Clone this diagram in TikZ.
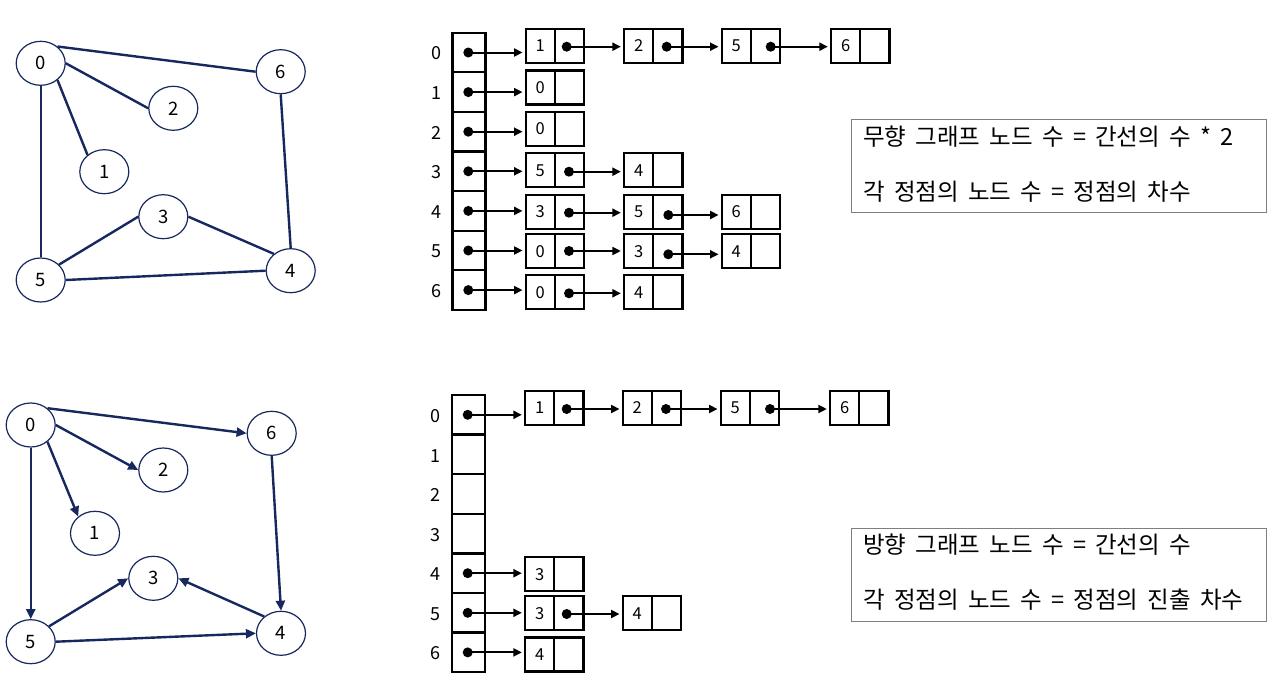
\documentclass[tikz,border=0pt]{standalone}
\usepackage{fontspec}
\setmainfont{Noto Sans CJK KR}
\newfontfamily\krw{Noto Sans CJK KR}[WordSpace=1.75]
\usetikzlibrary{shapes.geometric,arrows.meta}
\definecolor{navy}{RGB}{22,40,94}
\definecolor{boxgray}{RGB}{127,127,127}
\tikzset{
  vtx/.style={ellipse,draw=navy,line width=1.2pt,minimum width=49pt,minimum height=44pt,inner sep=0pt,font=\fontsize{18.5}{22}\selectfont},
  gedge/.style={draw=navy,line width=2.4pt},
  garr/.style={draw=navy,line width=2.4pt,-{Triangle[length=10pt,width=9pt]},color=navy},
  acell/.style={rectangle,draw=black,line width=2.3pt,minimum width=33pt,minimum height=39.6pt,inner sep=0pt},
  lcell/.style={rectangle,draw=black,line width=2.3pt,minimum width=29.2pt,minimum height=34pt,inner sep=0pt,font=\fontsize{16.5}{19}\selectfont},
  pdot/.style={circle,fill=black,inner sep=0pt,minimum size=10pt},
  ptr/.style={line width=2pt,-{Triangle[length=8.5pt,width=8pt]},shorten >=2pt},
  idx/.style={inner sep=0pt,font=\fontsize{18}{21}\selectfont},
  note/.style={rectangle,draw=boxgray,line width=1.2pt,inner sep=0pt},
  ntext/.style={anchor=west,inner sep=0pt,font=\krw\fontsize{23.5}{27}\selectfont}
}
% list node: name, left x, center y, digit
\newcommand{\lnode}[4]{%
  \node[lcell] (#1v) at ({#2+14.6},{#3}) {#4};
  \node[lcell] (#1p) at ({#2+43.8},{#3}) {};
}
\begin{document}
\begin{tikzpicture}[x=1pt,y=-1pt]
\useasboundingbox (0,0) rectangle (1278,680);
\fill[white] (0,0) rectangle (1278,680);

% ---------------- top graph ----------------
\node[vtx] (t0) at (40.7,63.3) {0};
\node[vtx] (t6) at (280.7,71.7) {6};
\node[vtx] (t2) at (173.3,108.3) {2};
\node[vtx] (t1) at (104.3,171.7) {1};
\node[vtx] (t3) at (163.3,216.7) {3};
\node[vtx] (t5) at (40.7,280) {5};
\node[vtx] (t4) at (290.7,270.7) {4};
\draw[gedge] (t0.45) -- (t6.west);
\draw[gedge] (t0.east) -- (t2.west);
\draw[gedge] (t0.-45) -- (t1.135);
\draw[gedge] (t0.south) -- (t5.north);
\draw[gedge] (t5.40) -- (t3.west);
\draw[gedge] (t3.east) -- (t4.135);
\draw[gedge] (t5.east) -- (t4.west);
\draw[gedge] (t6.south) -- (t4.north);

% ---------------- bottom graph ----------------
\node[vtx] (b0) at (30.7,425) {0};
\node[vtx] (b6) at (271.7,433.3) {6};
\node[vtx] (b2) at (163.3,470) {2};
\node[vtx] (b1) at (95,533.3) {1};
\node[vtx] (b3) at (153.3,578.3) {3};
\node[vtx] (b5) at (30.7,641.7) {5};
\node[vtx] (b4) at (281,633.3) {4};
\draw[garr] (b0.45) -- (b6.west);
\draw[garr] (b0.east) -- (b2.west);
\draw[garr] (b0.-45) -- (b1.135);
\draw[garr] (b0.south) -- (b5.north);
\draw[garr] (b5.40) -- (b3.west);
\draw[garr] (b4.135) -- (b3.east);
\draw[garr] (b5.east) -- (b4.west);
\draw[garr] (b6.south) -- (b4.north);

% ---------------- top adjacency list ----------------
\foreach \i/\yc/\yl in {0/52.5/53.3,1/92.1/92.7,2/131.7/132.7,3/171.3/171.7,4/210.9/211.7,5/250.5/251,6/290.1/290.7}{
  \node[acell] (ta\i) at (469,\yc) {};
  \node[idx] (tl\i) at (436,\yl) {\i};
  \node[pdot] (td\i) at (468.3,\yc) {};
}
\lnode{r0a}{525.7}{45.8}{1}
\lnode{r0b}{624}{45.8}{2}
\lnode{r0c}{721.7}{45.8}{5}
\lnode{r0d}{831}{45.8}{6}
\lnode{r1a}{525.7}{87.5}{0}
\lnode{r2a}{525.7}{128.8}{0}
\lnode{r3a}{525.7}{170.3}{5}
\lnode{r3b}{624}{170.3}{4}
\lnode{r4a}{525.7}{211.7}{3}
\lnode{r4b}{624}{211.7}{5}
\lnode{r4c}{721.7}{211.7}{6}
\lnode{r5a}{525.7}{251.2}{0}
\lnode{r5b}{624}{251.2}{3}
\lnode{r5c}{721.7}{251.2}{4}
\lnode{r6a}{525.7}{292.2}{0}
\lnode{r6b}{624}{292.2}{4}
% array pointers
\foreach \i/\r in {0/r0a,1/r1a,2/r2a,3/r3a,4/r4a,5/r5a,6/r6a}{
  \draw[ptr] (td\i.center) -- (\r v.west |- td\i.center);
}
% chain dots and pointers
\node[pdot] (q01) at (566.7,46.7) {};
\node[pdot] (q02) at (666.7,46.7) {};
\node[pdot] (q03) at (770.7,46.7) {};
\draw[ptr] (q01.center) -- (r0bv.west |- q01.center);
\draw[ptr] (q02.center) -- (r0cv.west |- q02.center);
\draw[ptr] (q03.center) -- (r0dv.west |- q03.center);
\node[pdot] (q31) at (569,171.7) {};
\draw[ptr] (q31.center) -- (r3bv.west |- q31.center);
\node[pdot] (q41) at (569,212.7) {};
\node[pdot] (q42) at (668.3,215) {};
\draw[ptr] (q41.center) -- (r4bv.west |- q41.center);
\draw[ptr] (q42.center) -- (r4cv.west |- q42.center);
\node[pdot] (q51) at (569,251) {};
\node[pdot] (q52) at (668.3,254.3) {};
\draw[ptr] (q51.center) -- (r5bv.west |- q51.center);
\draw[ptr] (q52.center) -- (r5cv.west |- q52.center);
\node[pdot] (q61) at (569,293.3) {};
\draw[ptr] (q61.center) -- (r6bv.west |- q61.center);

% ---------------- bottom adjacency list ----------------
\foreach \i/\yc/\yl in {0/414.8/415.7,1/454.4/455.7,2/494/495,3/533.6/535,4/573.2/574.3,5/612.8/614.3,6/652.4/653.3}{
  \node[acell] (ba\i) at (468.3,\yc) {};
  \node[idx] (bl\i) at (435,\yl) {\i};
}
\foreach \i/\yc in {0/414.8,4/573.2,5/612.8,6/652.4}{
  \node[pdot] (bd\i) at (467.7,\yc) {};
}
\lnode{s0a}{525}{408}{1}
\lnode{s0b}{622.7}{408}{2}
\lnode{s0c}{720.7}{408}{5}
\lnode{s0d}{830}{408}{6}
\lnode{s4a}{525}{574.2}{3}
\lnode{s5a}{525}{613.3}{3}
\lnode{s5b}{622.7}{613.3}{4}
\lnode{s6a}{525}{654.5}{4}
\foreach \i/\r in {0/s0a,4/s4a,5/s5a,6/s6a}{
  \draw[ptr] (bd\i.center) -- (\r v.west |- bd\i.center);
}
\node[pdot] (p01) at (566.7,409) {};
\node[pdot] (p02) at (666,409) {};
\node[pdot] (p03) at (770,409) {};
\draw[ptr] (p01.center) -- (s0bv.west |- p01.center);
\draw[ptr] (p02.center) -- (s0cv.west |- p02.center);
\draw[ptr] (p03.center) -- (s0dv.west |- p03.center);
\node[pdot] (p51) at (566.7,614) {};
\draw[ptr] (p51.center) -- (s5bv.west |- p51.center);

% ---------------- notes ----------------
\node[note,minimum width=415pt,minimum height=93.4pt] (n1) at (1059.2,166) {};
\node[ntext] (n1a) at (863,137) {무향 그래프 노드 수 = 간선의 수 * 2};
\node[ntext] (n1b) at (863,192) {각 정점의 노드 수 = 정점의 차수};
\node[note,minimum width=415pt,minimum height=93.4pt] (n2) at (1059.2,575) {};
\node[ntext] (n2a) at (863,545) {방향 그래프 노드 수 = 간선의 수};
\node[ntext] (n2b) at (863,600) {각 정점의 노드 수 = 정점의 진출 차수};
\end{tikzpicture}
\end{document}
